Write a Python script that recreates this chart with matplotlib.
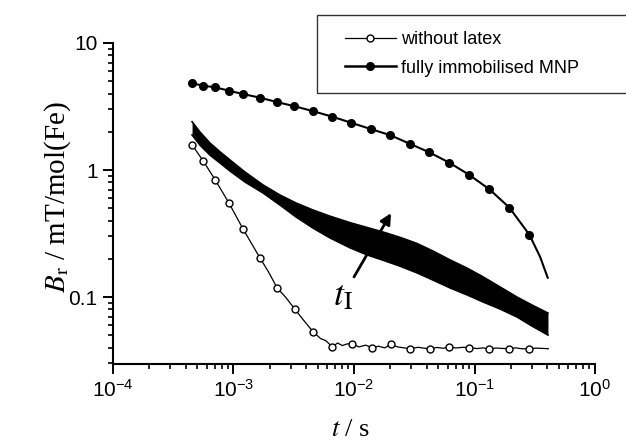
import numpy as np
import matplotlib
matplotlib.use("Agg")
import matplotlib.pyplot as plt
from matplotlib.patches import Rectangle
from matplotlib.ticker import FixedLocator, LogLocator, NullFormatter

# fully immobilised MNP (filled dots)
imm_t = [4.5e-4, 5.6e-4, 7.0e-4, 9.2e-4, 1.2e-3, 1.66e-3, 2.28e-3, 3.2e-3, 4.6e-3,
         6.6e-3, 9.4e-3, 1.38e-2, 2.0e-2, 2.9e-2, 4.2e-2, 6.2e-2, 9.0e-2, 0.133,
         0.195, 0.285]
imm_b = [4.82, 4.61, 4.48, 4.21, 3.96, 3.71, 3.43, 3.18, 2.90, 2.63, 2.36, 2.10,
         1.88, 1.61, 1.38, 1.14, 0.918, 0.705, 0.505, 0.31]
imm_tail_t = [0.35, 0.405]
imm_tail_b = [0.2075, 0.142]

# without latex (open circles) - markers
free_t = [4.55e-4, 5.6e-4, 7.06e-4, 9.2e-4, 1.2e-3, 1.66e-3, 2.3e-3, 3.24e-3, 4.6e-3,
          6.6e-3, 9.7e-3, 1.42e-2, 2.03e-2, 2.92e-2, 4.27e-2, 6.2e-2, 9.0e-2, 0.132,
          0.193, 0.283]
free_b = [1.57, 1.18, 0.834, 0.547, 0.343, 0.203, 0.118, 0.080, 0.053, 0.0403, 0.0426,
          0.0399, 0.0425, 0.0392, 0.0392, 0.0406, 0.0400, 0.0389, 0.0392, 0.0393]
# noisy measured trace between the markers
free_line_t = [4.55e-4, 5.6e-4, 7.06e-4, 9.2e-4, 1.2e-3, 1.66e-3, 1.95e-3, 2.3e-3, 2.7e-3,
               3.24e-3, 3.8e-3, 4.6e-3, 5.3e-3, 5.8e-3, 6.2e-3, 6.6e-3, 7.3e-3, 8.0e-3,
               8.8e-3, 9.7e-3, 1.1e-2, 1.25e-2, 1.42e-2, 1.6e-2, 1.8e-2, 2.03e-2, 2.3e-2,
               2.6e-2, 2.92e-2, 3.4e-2, 3.8e-2, 4.27e-2, 4.9e-2, 5.5e-2, 6.2e-2, 7.0e-2,
               8.0e-2, 9.0e-2, 0.105, 0.118, 0.132, 0.15, 0.17, 0.193, 0.22, 0.25, 0.283,
               0.33, 0.41]
free_line_b = [1.57, 1.18, 0.834, 0.547, 0.343, 0.203, 0.158, 0.118, 0.1, 0.080, 0.066,
               0.053, 0.047, 0.0455, 0.043, 0.0403, 0.0435, 0.0415, 0.0428, 0.0426,
               0.0405, 0.0418, 0.0399, 0.041, 0.0398, 0.0425, 0.0405, 0.0398, 0.0392,
               0.0402, 0.0396, 0.0392, 0.0401, 0.0395, 0.0406, 0.0397, 0.0402, 0.0400,
               0.0393, 0.0398, 0.0389, 0.0397, 0.0394, 0.0392, 0.0398, 0.0391, 0.0393,
               0.0396, 0.0392]

# family of curves for increasing t_I: lowest and highest envelope
fam_t = [4.53e-4, 5.27e-4, 6.38e-4, 7.73e-4, 9.35e-4, 1.245e-3, 1.76e-3, 2.43e-3,
         3.30e-3, 4.57e-3, 6.32e-3, 9.27e-3, 1.28e-2, 1.74e-2, 2.41e-2, 3.33e-2,
         4.53e-2, 6.26e-2, 8.67e-2, 0.118, 0.163, 0.225, 0.300, 0.407]
fam_high = [2.40, 1.99, 1.63, 1.39, 1.20, 0.964, 0.762, 0.635, 0.550, 0.484, 0.433,
            0.385, 0.353, 0.325, 0.295, 0.264, 0.230, 0.196, 0.169, 0.144, 0.120,
            0.100, 0.0865, 0.0748]
fam_low = [1.89, 1.57, 1.31, 1.135, 0.982, 0.805, 0.659, 0.530, 0.427, 0.349, 0.292,
           0.244, 0.215, 0.195, 0.175, 0.155, 0.136, 0.118, 0.104, 0.0914, 0.0805,
           0.0697, 0.0591, 0.0502]

plt.rcParams.update({
    "font.family": "Liberation Sans",
    "mathtext.fontset": "stix",
    "font.size": 15,
})

fig = plt.figure(figsize=(6.26, 4.43), dpi=100)
ax = fig.add_axes([0.1805, 0.1783, 0.77, 0.7247])

# band of curves
ax.fill_between(fam_t, fam_low, fam_high, color="black", lw=0, zorder=2)
ax.plot(fam_t, fam_low, color="black", lw=1.2, zorder=2)
ax.plot(fam_t, fam_high, color="black", lw=1.2, zorder=2)

# fully immobilised
ax.plot(imm_t + imm_tail_t, imm_b + imm_tail_b, color="black", lw=1.5, zorder=3)
ax.plot(imm_t, imm_b, ls="none", marker="o", ms=5.5, color="black", zorder=4)

# without latex
ax.plot(free_line_t, free_line_b, color="black", lw=0.9, zorder=3)
ax.plot(free_t, free_b, ls="none", marker="o", ms=5, mfc="white", mec="black",
        mew=1.0, zorder=4)

ax.annotate("", xy=(0.0203, 0.458), xytext=(0.01, 0.144),
            arrowprops=dict(arrowstyle="-|>", lw=2.0, color="black",
                            mutation_scale=16, shrinkA=0, shrinkB=0), zorder=5)
ax.text(8.1e-3, 0.103, r"$t_{\rm I}$", fontsize=26, ha="center", va="center")

ax.set_xscale("log")
ax.set_yscale("log")
ax.set_xlim(1e-4, 1e0)
ax.set_ylim(0.0297, 10)
ax.xaxis.set_major_locator(FixedLocator([1e-4, 1e-3, 1e-2, 1e-1, 1e0]))
ax.xaxis.set_minor_locator(LogLocator(base=10, subs=np.arange(2, 10), numticks=20))
ax.xaxis.set_minor_formatter(NullFormatter())
ax.yaxis.set_major_locator(FixedLocator([0.1, 1, 10]))
ax.set_yticklabels(["0.1", "1", "10"])
ax.yaxis.set_minor_locator(LogLocator(base=10, subs=np.arange(2, 10), numticks=20))
ax.yaxis.set_minor_formatter(NullFormatter())

for s in ["top", "right"]:
    ax.spines[s].set_visible(False)
for s in ["left", "bottom"]:
    ax.spines[s].set_linewidth(1.5)
ax.tick_params(which="major", direction="out", length=7, width=1.4, pad=4, labelsize=15)
ax.tick_params(which="minor", direction="out", length=3.5, width=1.2)

ax.set_xlabel(r"$t$ / s", fontsize=19, family="Liberation Serif")
ax.xaxis.set_label_coords(0.494, -0.172)
ax.set_ylabel(r"$B_{\rm r}$ / mT/mol(Fe)", fontsize=21, family="Liberation Serif")
ax.yaxis.set_label_coords(-0.082, 0.52)

# legend frame running past the right edge
fig.patches.append(Rectangle((317/626, 1 - 93/443), 0.6, 78/443, transform=fig.transFigure,
                             fill=False, lw=1.0, edgecolor="0.2"))
h1, = ax.plot([], [], color="black", lw=0.9, marker="o", ms=5, mfc="white", mec="black")
h2, = ax.plot([], [], color="black", lw=1.8, marker="o", ms=5.5)
fig.legend([h1, h2], ["without latex", "fully immobilised MNP"], loc="upper left",
           bbox_to_anchor=(345/626, 1 - 31/443), frameon=False, borderpad=0,
           borderaxespad=0, handlelength=2.8, handletextpad=0.3, labelspacing=0.65,
           fontsize=13)

fig.savefig("out.png", dpi=100, facecolor="white")
